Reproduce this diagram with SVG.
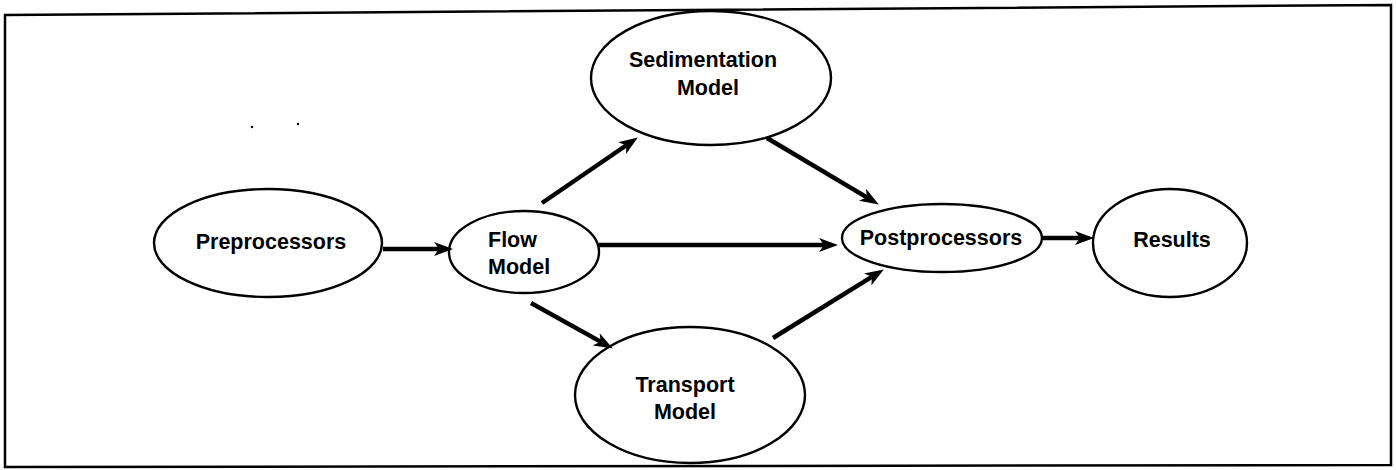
<svg xmlns="http://www.w3.org/2000/svg" width="1396" height="470" viewBox="0 0 1396 470">
<style>
.node ellipse{fill:#fff;stroke:#000;stroke-width:2.4}
.node text{font-family:"Liberation Sans",Arial,sans-serif;font-weight:bold;font-size:21.5px;fill:#000;text-anchor:middle}
.conn line{stroke:#000;stroke-width:4.5;stroke-linecap:butt;marker-end:url(#ah)}
</style>
<defs>
<marker id="ah" markerUnits="userSpaceOnUse" markerWidth="20" markerHeight="14" viewBox="0 0 20 14" refX="10" refY="7" orient="auto">
<path d="M0,0 L19,7 L0,14 L5,7 Z" fill="#000"/>
</marker>
</defs>
<rect width="1396" height="470" fill="#fff"/>
<polygon points="5,15 1391,5 1391,465 5,467" fill="none" stroke="#000" stroke-width="2.5"/>
<circle cx="252" cy="127" r="1.2" fill="#000"/>
<circle cx="298" cy="124" r="1.2" fill="#000"/>
<g id="n-pre" class="node">
<ellipse cx="268" cy="243" rx="114" ry="54"/>
<text x="271" y="249">Preprocessors</text>
</g>
<g id="n-flow" class="node">
<ellipse cx="524" cy="252" rx="75" ry="41"/>
<text x="488" y="247" style="text-anchor:start">Flow</text>
<text x="488" y="274" style="text-anchor:start">Model</text>
</g>
<g id="n-sed" class="node">
<ellipse cx="711" cy="78" rx="120" ry="67"/>
<text x="703" y="67">Sedimentation</text>
<text x="708" y="95">Model</text>
</g>
<g id="n-trans" class="node">
<ellipse cx="690" cy="395" rx="115" ry="68"/>
<text x="685" y="392">Transport</text>
<text x="685" y="419">Model</text>
</g>
<g id="n-post" class="node">
<ellipse cx="942" cy="238" rx="100" ry="34"/>
<text x="941" y="245">Postprocessors</text>
</g>
<g id="n-res" class="node">
<ellipse cx="1170" cy="243" rx="77" ry="54"/>
<text x="1172" y="247">Results</text>
</g>
<g id="connectors" class="conn">
<line x1="383" y1="249" x2="444" y2="249"/>
<line x1="542" y1="203" x2="630.4" y2="142.5"/>
<line x1="599" y1="245" x2="829" y2="245"/>
<line x1="531" y1="303" x2="605" y2="344.1"/>
<line x1="767" y1="138" x2="871.1" y2="199.9"/>
<line x1="773" y1="338" x2="876.2" y2="274.2"/>
<line x1="1043" y1="238" x2="1085" y2="238"/>
</g>
</svg>
